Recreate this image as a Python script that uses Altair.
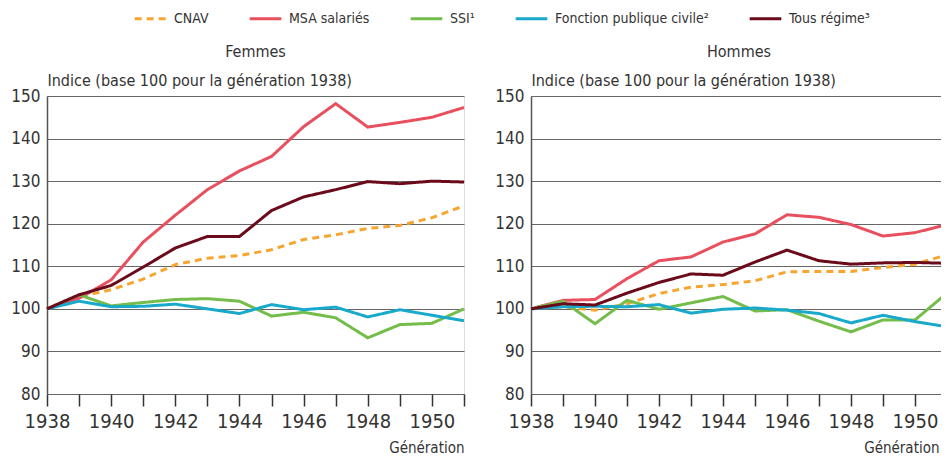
import altair as alt
import pandas as pd

years = list(range(1938, 1952))
series = ["CNAV", "MSA salariés", "SSI¹", "Fonction publique civile²", "Tous régime³"]
colors = ["#F7A531", "#E9505F", "#74BD4A", "#18A9CB", "#6A0A1A"]
dashes = [[7, 5], [1, 0], [1, 0], [1, 0], [1, 0]]

femmes_cnav = [100, 102.8, 104.5, 107.0, 110.4, 111.9, 112.5, 113.9, 116.3, 117.4, 118.9, 119.6, 121.4, 124.2]
femmes_msa = [100, 102.5, 106.8, 115.7, 122.0, 128.0, 132.4, 135.8, 142.8, 148.2, 142.7, 143.8, 145.0, 147.3]
femmes_ssi = [100, 103.3, 100.7, 101.5, 102.2, 102.4, 101.8, 98.3, 99.2, 97.9, 93.2, 96.3, 96.6, 100.0]
femmes_fpc = [100, 101.8, 100.5, 100.6, 101.1, 100.0, 98.9, 101.0, 99.8, 100.4, 98.1, 99.8, 98.5, 97.2]
femmes_tous = [100, 103.3, 105.5, 109.8, 114.3, 117.0, 117.0, 123.1, 126.3, 128.0, 129.9, 129.4, 130.0, 129.8]

hommes_cnav = [100, 100.5, 99.7, 101.2, 103.6, 105.1, 105.7, 106.6, 108.7, 108.8, 108.8, 109.7, 110.5, 112.7]
hommes_msa = [100, 102.0, 102.2, 107.1, 111.3, 112.2, 115.7, 117.6, 122.1, 121.5, 119.8, 117.1, 117.9, 119.8]
hommes_ssi = [100, 101.8, 96.5, 102.0, 99.9, 101.4, 102.9, 99.5, 99.8, 97.1, 94.6, 97.4, 97.4, 103.7]
hommes_fpc = [100, 100.5, 100.6, 100.5, 101.0, 99.0, 99.9, 100.2, 99.7, 98.9, 96.7, 98.5, 97.0, 95.8]
hommes_tous = [100, 101.2, 100.9, 103.7, 106.2, 108.2, 107.9, 111.0, 113.8, 111.3, 110.5, 110.8, 110.9, 110.7]

panels = {
    "Femmes": [femmes_cnav, femmes_msa, femmes_ssi, femmes_fpc, femmes_tous],
    "Hommes": [hommes_cnav, hommes_msa, hommes_ssi, hommes_fpc, hommes_tous],
}

rows = []
for panel, vals in panels.items():
    for s, v in zip(series, vals):
        for y, val in zip(years, v):
            rows.append({"panel": panel, "serie": s, "year": y, "value": val})
df = pd.DataFrame(rows)

FONT = "Liberation Sans Narrow, DejaVu Sans Condensed, sans-serif"
TXT = "#333333"
HEIGHT = 298


def panel_chart(name, width, show_legend, title_x):
    if show_legend:
        legend = alt.Legend(
            orient="none",
            direction="horizontal",
            legendX=86,
            legendY=-95,
            columns=5,
            symbolType="stroke",
            symbolStrokeWidth=3,
            symbolSize=1000,
            labelFontSize=14,
            labelFont=FONT,
            labelColor=TXT,
            labelLimit=0,
            columnPadding=34,
            labelOffset=6,
        )
    else:
        legend = None
    enc_color = alt.Color(
        "serie:N",
        scale=alt.Scale(domain=series, range=colors),
        title=None,
        sort=series,
        legend=legend,
    )
    enc_dash = alt.StrokeDash(
        "serie:N",
        scale=alt.Scale(domain=series, range=dashes),
        title=None,
        sort=series,
        legend=legend,
    )
    return (
        alt.Chart(df[df.panel == name])
        .mark_line(strokeWidth=3)
        .encode(
            x=alt.X(
                "year:Q",
                scale=alt.Scale(domain=[1938, 1951], nice=False, zero=False),
                axis=alt.Axis(
                    values=years,
                    labelExpr="datum.value % 2 == 0 && datum.value < 1951 ? datum.value : ''",
                    title="Génération",
                    titleAnchor="end",
                    titleAlign="right",
                    titleX=title_x,
                    titleFontSize=15,
                    titleFontWeight="normal",
                    titleFont=FONT,
                    titleColor=TXT,
                    titlePadding=9,
                    labelFontSize=20,
                    labelFont=FONT,
                    labelColor=TXT,
                    labelPadding=5,
                    tickSize=12,
                    tickColor="#333333",
                    tickWidth=1.5,
                    domain=False,
                    grid=False,
                    labelFlush=False,
                ),
            ),
            y=alt.Y(
                "value:Q",
                scale=alt.Scale(domain=[80, 150], nice=False, zero=False),
                axis=alt.Axis(
                    values=[80, 90, 100, 110, 120, 130, 140, 150],
                    title="Indice (base 100 pour la génération 1938)",
                    titleAngle=0,
                    titleX=0,
                    titleY=-8,
                    titleAlign="left",
                    titleBaseline="bottom",
                    titleFontSize=16,
                    titleFontWeight="normal",
                    titleFont=FONT,
                    titleColor=TXT,
                    labelFontSize=17,
                    labelFont=FONT,
                    labelColor=TXT,
                    labelPadding=7,
                    ticks=False,
                    domain=True,
                    domainColor="#555555",
                    domainWidth=1.5,
                    grid=True,
                    gridColor="#666666",
                    gridWidth=1.2,
                    minExtent=38,
                    maxExtent=38,
                ),
            ),
            color=enc_color,
            strokeDash=enc_dash,
            order=alt.Order("serie:N"),
        )
        .properties(
            width=width,
            height=HEIGHT,
            title=alt.TitleParams(
                name,
                fontSize=16,
                font=FONT,
                fontWeight="normal",
                color=TXT,
                anchor="middle",
                offset=12,
            ),
        )
    )


chart = (
    alt.hconcat(
        panel_chart("Femmes", 417, True, 417),
        panel_chart("Hommes", 416, False, 408),
        spacing=21,
    )
    .properties(padding={"left": 0, "right": -13, "top": -7, "bottom": 0})
    .configure_view(stroke=None)
    .configure(font=FONT)
)

chart.save("out.html", embed_options={"renderer": "svg", "actions": False})
